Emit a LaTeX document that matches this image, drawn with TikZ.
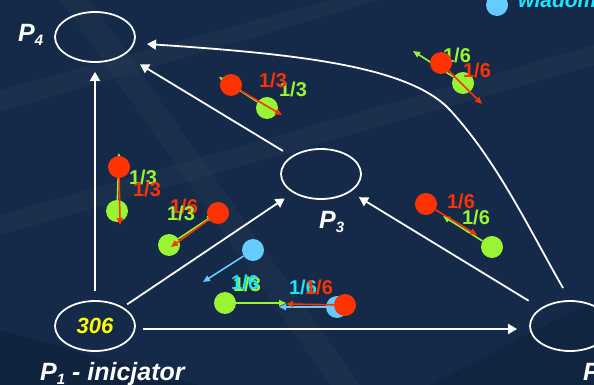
\documentclass[tikz,border=0pt]{standalone}
\usepackage{fontspec}
\setmainfont{Liberation Sans}
\usetikzlibrary{shapes.geometric,arrows.meta}
\definecolor{bg}{HTML}{142A48}
\definecolor{mred}{HTML}{FF3300}
\definecolor{mgreen}{HTML}{99F533}
\definecolor{mblue}{HTML}{66CCFF}
\definecolor{mcyan}{HTML}{1AE6FF}
\definecolor{myellow}{HTML}{FFFF00}
\newcommand\psub[1]{{\fontsize{15}{15}\selectfont\raisebox{-4pt}{#1}}}
\begin{document}
\begin{tikzpicture}[x=1pt,y=-1pt,
  proc/.style={ellipse,draw=white,line width=1.8pt,minimum width=80pt,minimum height=50pt,inner sep=0pt},
  link/.style={draw=white,line width=1.8pt,-{Triangle[length=9pt,width=10pt]}},
  tok/.style={circle,inner sep=0pt,minimum size=22pt},
  msg/.style={line width=1.6pt,-{Triangle[length=7pt,width=6pt]}},
  frac/.style={font=\fontsize{20}{20}\selectfont\bfseries,inner sep=0pt},
  plabel/.style={font=\fontsize{25}{25}\selectfont\bfseries\itshape,text=white,inner sep=0pt,anchor=base west},
]
\useasboundingbox (0,0) rectangle (594,385);
\clip (0,0) rectangle (594,385);
\fill[bg] (0,0) rectangle (594,385);
% faint background bands
\fill[white,opacity=0.03] (0,90) -- (330,0) -- (380,0) -- (0,112) -- cycle;
\fill[white,opacity=0.03] (0,215) -- (594,45) -- (594,65) -- (0,235) -- cycle;
\fill[white,opacity=0.025] (60,0) -- (330,385) -- (360,385) -- (90,0) -- cycle;
\fill[black,opacity=0.12] (0,330) -- (200,385) -- (0,385) -- cycle;
\fill[black,opacity=0.10] (430,385) -- (594,300) -- (594,385) -- cycle;

% processes
\node[proc] (p4) at (95,37) {};
\node[proc] (p3) at (321,174) {};
\node[proc,font=\fontsize{22}{22}\selectfont\bfseries\itshape,text=myellow] (p1) at (95,326) {306};
\node[proc] (p2) at (570,326) {};

% process labels
\node[plabel] (l4) at (18,42) {P\psub{4}};
\node[plabel] (l3) at (319,228) {P\psub{3}};
\node[plabel] (l1) at (40,380) {P\psub{1} - inicjator};
\node[plabel] (l2) at (583,380) {P\psub{2}};

% channels
\draw[link,shorten <=9pt,shorten >=9pt] (p1) -- (p4);
\draw[link,shorten <=5pt,shorten >=10pt] (p1) -- (p3);
\draw[link,shorten <=7pt,shorten >=12pt] ([yshift=-3pt]p1.east) -- ([yshift=-3pt]p2.west);
\draw[link,shorten <=10pt,shorten >=18pt] (p3) -- (p4);
\draw[link,shorten <=14pt,shorten >=10pt] (p2) -- (p3);
\coordinate (cs) at (563,288);
\coordinate (cm) at (450,110);
\coordinate (ce) at (147,44);
\draw[link] (cs) .. controls (528,227) and (497,161) .. (cm) .. controls (409,66) and (297,54) .. (ce);

% legend
\node[tok,fill=mblue] (leg) at (497,5) {};
\node[font=\fontsize{21}{21}\selectfont\bfseries\itshape,text=mcyan,inner sep=0pt,anchor=base west] (legt) at (518,8) {wiadomość};

% label under green layer (group D)
\node[frac,text=mred] (dl1) at (184,206) {1/6};

% ---- green layer
\node[tok,fill=mgreen] (ag) at (267,108) {};
\coordinate (agt) at (219,77);
\draw[msg,mgreen] (ag) -- (agt);
\node[frac,text=mgreen] (al2) at (293,89) {1/3};

\node[tok,fill=mgreen] (bg) at (463,83) {};
\coordinate (bgt) at (413,51);
\draw[msg,mgreen] (bg) -- (bgt);
\node[frac,text=mgreen] (bl1) at (457,55) {1/6};

\node[tok,fill=mgreen] (cg) at (117,211) {};
\coordinate (cgt) at (119,153);
\draw[msg,mgreen] (cg) -- (cgt);
\node[frac,text=mgreen] (cl1) at (143,177) {1/3};

\node[tok,fill=mgreen] (dg) at (169,245) {};
\coordinate (dgt) at (214,215);
\draw[msg,mgreen] (dg) -- (dgt);
\node[frac,text=mgreen] (dl2) at (181,213) {1/3};

\node[tok,fill=mgreen] (fg) at (225,303) {};
\coordinate (fgt) at (286,303);
\draw[msg,mgreen] (fg) -- (fgt);
\node[frac,text=mgreen] (fl2) at (247,284) {1/3};

\node[tok,fill=mgreen] (gg) at (492,247) {};
\coordinate (ggt) at (443,216);
\draw[msg,mgreen] (gg) -- (ggt);
\node[frac,text=mgreen] (gl2) at (476,217) {1/6};

% ---- blue layer
\node[tok,fill=mblue] (eb) at (253,250) {};
\coordinate (ebt) at (203,282);
\draw[msg,mblue] (eb) -- (ebt);
\node[frac,text=mcyan] (el1) at (245,282) {1/6};

\node[tok,fill=mblue] (fb) at (337,307) {};
\coordinate (fbt) at (279,307);
\draw[msg,mblue] (fb) -- (fbt);
\node[frac,text=mcyan] (fl3) at (303,287) {1/6};

% ---- red layer
\node[tok,fill=mred] (ar) at (231,85) {};
\coordinate (art) at (282,115);
\draw[msg,mred] (ar) -- (art);
\node[frac,text=mred] (al1) at (273,80) {1/3};

\node[tok,fill=mred] (br) at (441,63) {};
\coordinate (brt) at (482,104);
\draw[msg,mred] (br) -- (brt);
\node[frac,text=mred] (bl2) at (477,70) {1/6};

\node[tok,fill=mred] (cr) at (119,167) {};
\coordinate (crt) at (120,225);
\draw[msg,mred] (cr) -- (crt);
\node[frac,text=mred] (cl2) at (147,189) {1/3};

\node[tok,fill=mred] (dr) at (218,213) {};
\coordinate (drt) at (171,247);
\draw[msg,mred] (dr) -- (drt);

\node[tok,fill=mred] (fr) at (345,305) {};
\coordinate (frt) at (286,304);
\draw[msg,mred] (fr) -- (frt);
\node[frac,text=mred] (fl4) at (319,287) {1/6};

\node[tok,fill=mred] (gr) at (426,204) {};
\coordinate (grt) at (477,235);
\draw[msg,mred] (gr) -- (grt);
\node[frac,text=mred] (gl1) at (461,201) {1/6};
\end{tikzpicture}
\end{document}
